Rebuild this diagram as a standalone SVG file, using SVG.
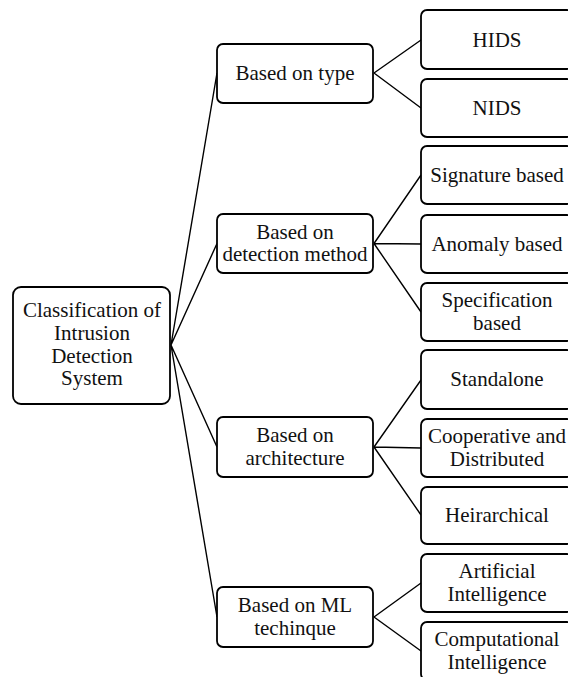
<svg xmlns="http://www.w3.org/2000/svg" width="568" height="677" viewBox="0 0 568 677">
<style>
.box{fill:#fff;stroke:#000;stroke-width:1.8}
.t{font-family:"Liberation Serif","Times New Roman",serif;font-size:21px;fill:#111;text-anchor:middle}
.c{stroke:#000;stroke-width:1.4;fill:none}
</style>
<rect width="568" height="677" fill="#fff"/>
<g id="connectors">
<path class="c" d="M171 345 L217 73 M171 345 L217 243.5 M171 345 L217 447 M171 345 L217 617"/>
<path class="c" d="M374 73 L421 40 M374 73 L421 108"/>
<path class="c" d="M374 243.5 L421 175 M374 243.5 L421 244 M374 243.5 L421 312"/>
<path class="c" d="M374 447 L421 380 M374 447 L421 448 M374 447 L421 515"/>
<path class="c" d="M374 617 L421 583 M374 617 L421 651"/>
</g>
<g id="root">
<rect class="box" x="13" y="287" width="157" height="117" rx="8"/>
<text class="t" x="92" y="317">Classification of</text>
<text class="t" x="92" y="340">Intrusion</text>
<text class="t" x="92" y="362.5">Detection</text>
<text class="t" x="92" y="385">System</text>
</g>
<g id="type">
<rect class="box" x="217" y="44" width="156" height="59" rx="6"/>
<text class="t" x="295" y="80">Based on type</text>
</g>
<g id="detection">
<rect class="box" x="217" y="214" width="156" height="59" rx="6"/>
<text class="t" x="295" y="238.5">Based on</text>
<text class="t" x="295" y="261">detection method</text>
</g>
<g id="architecture">
<rect class="box" x="217" y="417" width="156" height="60" rx="6"/>
<text class="t" x="295" y="442">Based on</text>
<text class="t" x="295" y="464.5">architecture</text>
</g>
<g id="ml">
<rect class="box" x="217" y="587" width="156" height="60" rx="6"/>
<text class="t" x="295" y="612">Based on ML</text>
<text class="t" x="295" y="634.5">techinque</text>
</g>
<g id="hids">
<rect class="box" x="421" y="10" width="152" height="59" rx="6"/>
<text class="t" x="497" y="46.5">HIDS</text>
</g>
<g id="nids">
<rect class="box" x="421" y="79" width="152" height="58" rx="6"/>
<text class="t" x="497" y="114.5">NIDS</text>
</g>
<g id="signature">
<rect class="box" x="421" y="146" width="152" height="58" rx="6"/>
<text class="t" x="497" y="181.5">Signature based</text>
</g>
<g id="anomaly">
<rect class="box" x="421" y="215" width="152" height="58" rx="6"/>
<text class="t" x="497" y="250.5">Anomaly based</text>
</g>
<g id="specification">
<rect class="box" x="421" y="283" width="152" height="58" rx="6"/>
<text class="t" x="497" y="307">Specification</text>
<text class="t" x="497" y="329.5">based</text>
</g>
<g id="standalone">
<rect class="box" x="421" y="350" width="152" height="59" rx="6"/>
<text class="t" x="497" y="386">Standalone</text>
</g>
<g id="cooperative">
<rect class="box" x="421" y="419" width="152" height="58" rx="6"/>
<text class="t" x="497" y="443">Cooperative and</text>
<text class="t" x="497" y="465.5">Distributed</text>
</g>
<g id="hierarchical">
<rect class="box" x="421" y="487" width="152" height="57" rx="6"/>
<text class="t" x="497" y="522">Heirarchical</text>
</g>
<g id="ai">
<rect class="box" x="421" y="554" width="152" height="58" rx="6"/>
<text class="t" x="497" y="578">Artificial</text>
<text class="t" x="497" y="600.5">Intelligence</text>
</g>
<g id="ci">
<rect class="box" x="421" y="622" width="152" height="58" rx="6"/>
<text class="t" x="497" y="646">Computational</text>
<text class="t" x="497" y="668.5">Intelligence</text>
</g>
</svg>
